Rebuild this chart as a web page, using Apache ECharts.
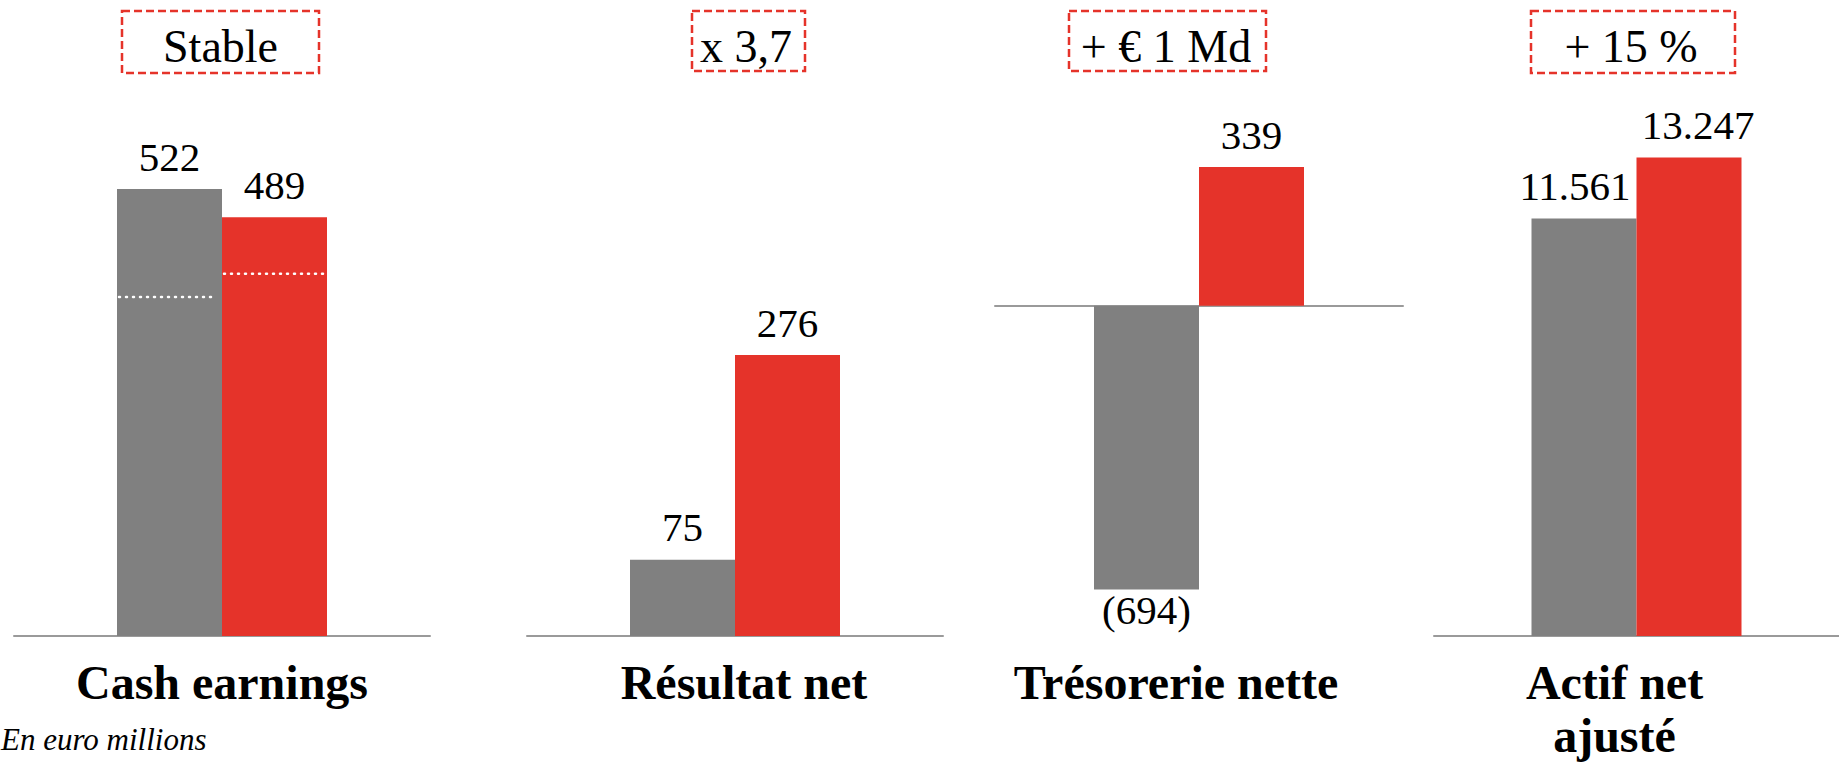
<!DOCTYPE html>
<html>
<head>
<meta charset="utf-8">
<script src="https://cdn.jsdelivr.net/npm/echarts@6/dist/echarts.min.js"></script>
<style>
html,body{margin:0;padding:0;background:#ffffff;overflow:hidden}
#c{width:1839px;height:762px}
</style>
</head>
<body>
<div id="c"></div>
<script>
// ---------- data ----------
const categories = ['Cash earnings', 'Résultat net', 'Trésorerie nette', 'Actif net\najusté'];
const previousValues = [522, 75, -694, 11561];
const currentValues = [489, 276, 339, 13247];
const badges = ['Stable', 'x 3,7', '+ € 1 Md', '+ 15 %'];
const cashSplitValues = [396, 423]; // dotted markers inside the Cash earnings bars (previous, current)
const footnote = 'En euro millions';

// ---------- scales per panel ----------
const yMin = [0, 0, -808, 0];
const yMax = [626, 526.5, 503, 14840];

// ---------- layout / style ----------
const FONT = "'Liberation Serif', 'Times New Roman', serif";
const GREY = '#808080';
const RED = '#E5332A';
const gridLefts = [14, 527, 995, 1434];
const gridWidths = [416, 416, 408, 418];
const catLabelShift = [0, 9, -23, -22];
const labelOffsets = [[[0, 0], [0, 0]], [[0, 0], [0, 0]], [[0, 0], [0, 0]], [[-9, 0], [9, 0]]];
const BAR_W = 105;
const badgeBoxes = [
  { x: 122, y: 11, w: 197, h: 62, tx: 220.5 },
  { x: 692, y: 11, w: 113, h: 60, tx: 746 },
  { x: 1069, y: 11, w: 197, h: 60, tx: 1166 },
  { x: 1531, y: 11, w: 204, h: 62, tx: 1631 }
];

function fmt(v) {
  const s = String(Math.abs(v)).replace(/\B(?=(\d{3})+(?!\d))/g, '.');
  return v < 0 ? '(' + s + ')' : s;
}

function barItem(v, off) {
  return {
    value: v,
    label: v < 0
      ? { position: 'bottom', distance: 0, offset: off }
      : { position: 'top', distance: 12, offset: off }
  };
}

const grids = [], xAxes = [], yAxes = [], series = [];
for (let i = 0; i < 4; i++) {
  const sh = catLabelShift[i];
  grids.push({ left: gridLefts[i], width: gridWidths[i], top: 100, bottom: 126 });
  xAxes.push({
    type: 'category', gridIndex: i, data: [categories[i]],
    axisTick: { show: false },
    axisLine: { onZero: true, lineStyle: { color: '#9a9a9a', width: 2 } },
    axisLabel: {
      interval: 0, margin: 20, color: '#000', fontFamily: FONT, fontSize: 48,
      fontWeight: 'bold', lineHeight: 53,
      padding: sh >= 0 ? [0, 0, 0, 2 * sh] : [0, -2 * sh, 0, 0]
    }
  });
  yAxes.push({ type: 'value', gridIndex: i, min: yMin[i], max: yMax[i], show: false });
  const lbl = { show: true, color: '#000', fontFamily: FONT, fontSize: 41, formatter: p => fmt(p.value) };
  series.push({
    type: 'bar', xAxisIndex: i, yAxisIndex: i, barWidth: BAR_W, barGap: '0%',
    itemStyle: { color: GREY }, label: lbl,
    data: [barItem(previousValues[i], labelOffsets[i][0])]
  });
  series.push({
    type: 'bar', xAxisIndex: i, yAxisIndex: i, barWidth: BAR_W, barGap: '0%',
    itemStyle: { color: RED }, label: lbl,
    data: [barItem(currentValues[i], labelOffsets[i][1])]
  });
}

series.push({
  type: 'custom', xAxisIndex: 0, yAxisIndex: 0, z: 10, silent: true,
  data: [[0, cashSplitValues[0], -1], [0, cashSplitValues[1], 1]],
  renderItem: function (params, api) {
    const p = api.coord([api.value(0), api.value(1)]);
    const side = api.value(2);
    const x1 = side < 0 ? p[0] - BAR_W + 2 : p[0] + 2;
    const x2 = side < 0 ? p[0] - 8 : p[0] + BAR_W - 1;
    return {
      type: 'line',
      shape: { x1: x1, y1: p[1], x2: x2, y2: p[1] },
      style: { stroke: '#ffffff', lineWidth: 2.5, lineDash: [1, 6], lineCap: 'round' }
    };
  }
});

const graphic = [];
badges.forEach((t, i) => {
  const b = badgeBoxes[i];
  graphic.push({
    type: 'rect', shape: { x: b.x, y: b.y, width: b.w, height: b.h },
    style: { fill: 'none', stroke: RED, lineWidth: 2.5, lineDash: [8, 4] }
  });
  graphic.push({
    type: 'text', x: b.tx, y: 46,
    style: { text: t, fontFamily: FONT, fontSize: 46, fill: '#000', align: 'center', verticalAlign: 'middle' }
  });
});
graphic.push({
  type: 'text', x: 1, y: 739,
  style: { text: footnote, fontFamily: FONT, fontSize: 31, fontStyle: 'italic', fill: '#000', align: 'left', verticalAlign: 'middle' }
});

const chart = echarts.init(document.getElementById('c'), null, { renderer: 'svg' });
chart.setOption({
  animation: false,
  backgroundColor: '#ffffff',
  grid: grids,
  xAxis: xAxes,
  yAxis: yAxes,
  series: series,
  graphic: graphic
});
</script>
</body>
</html>
